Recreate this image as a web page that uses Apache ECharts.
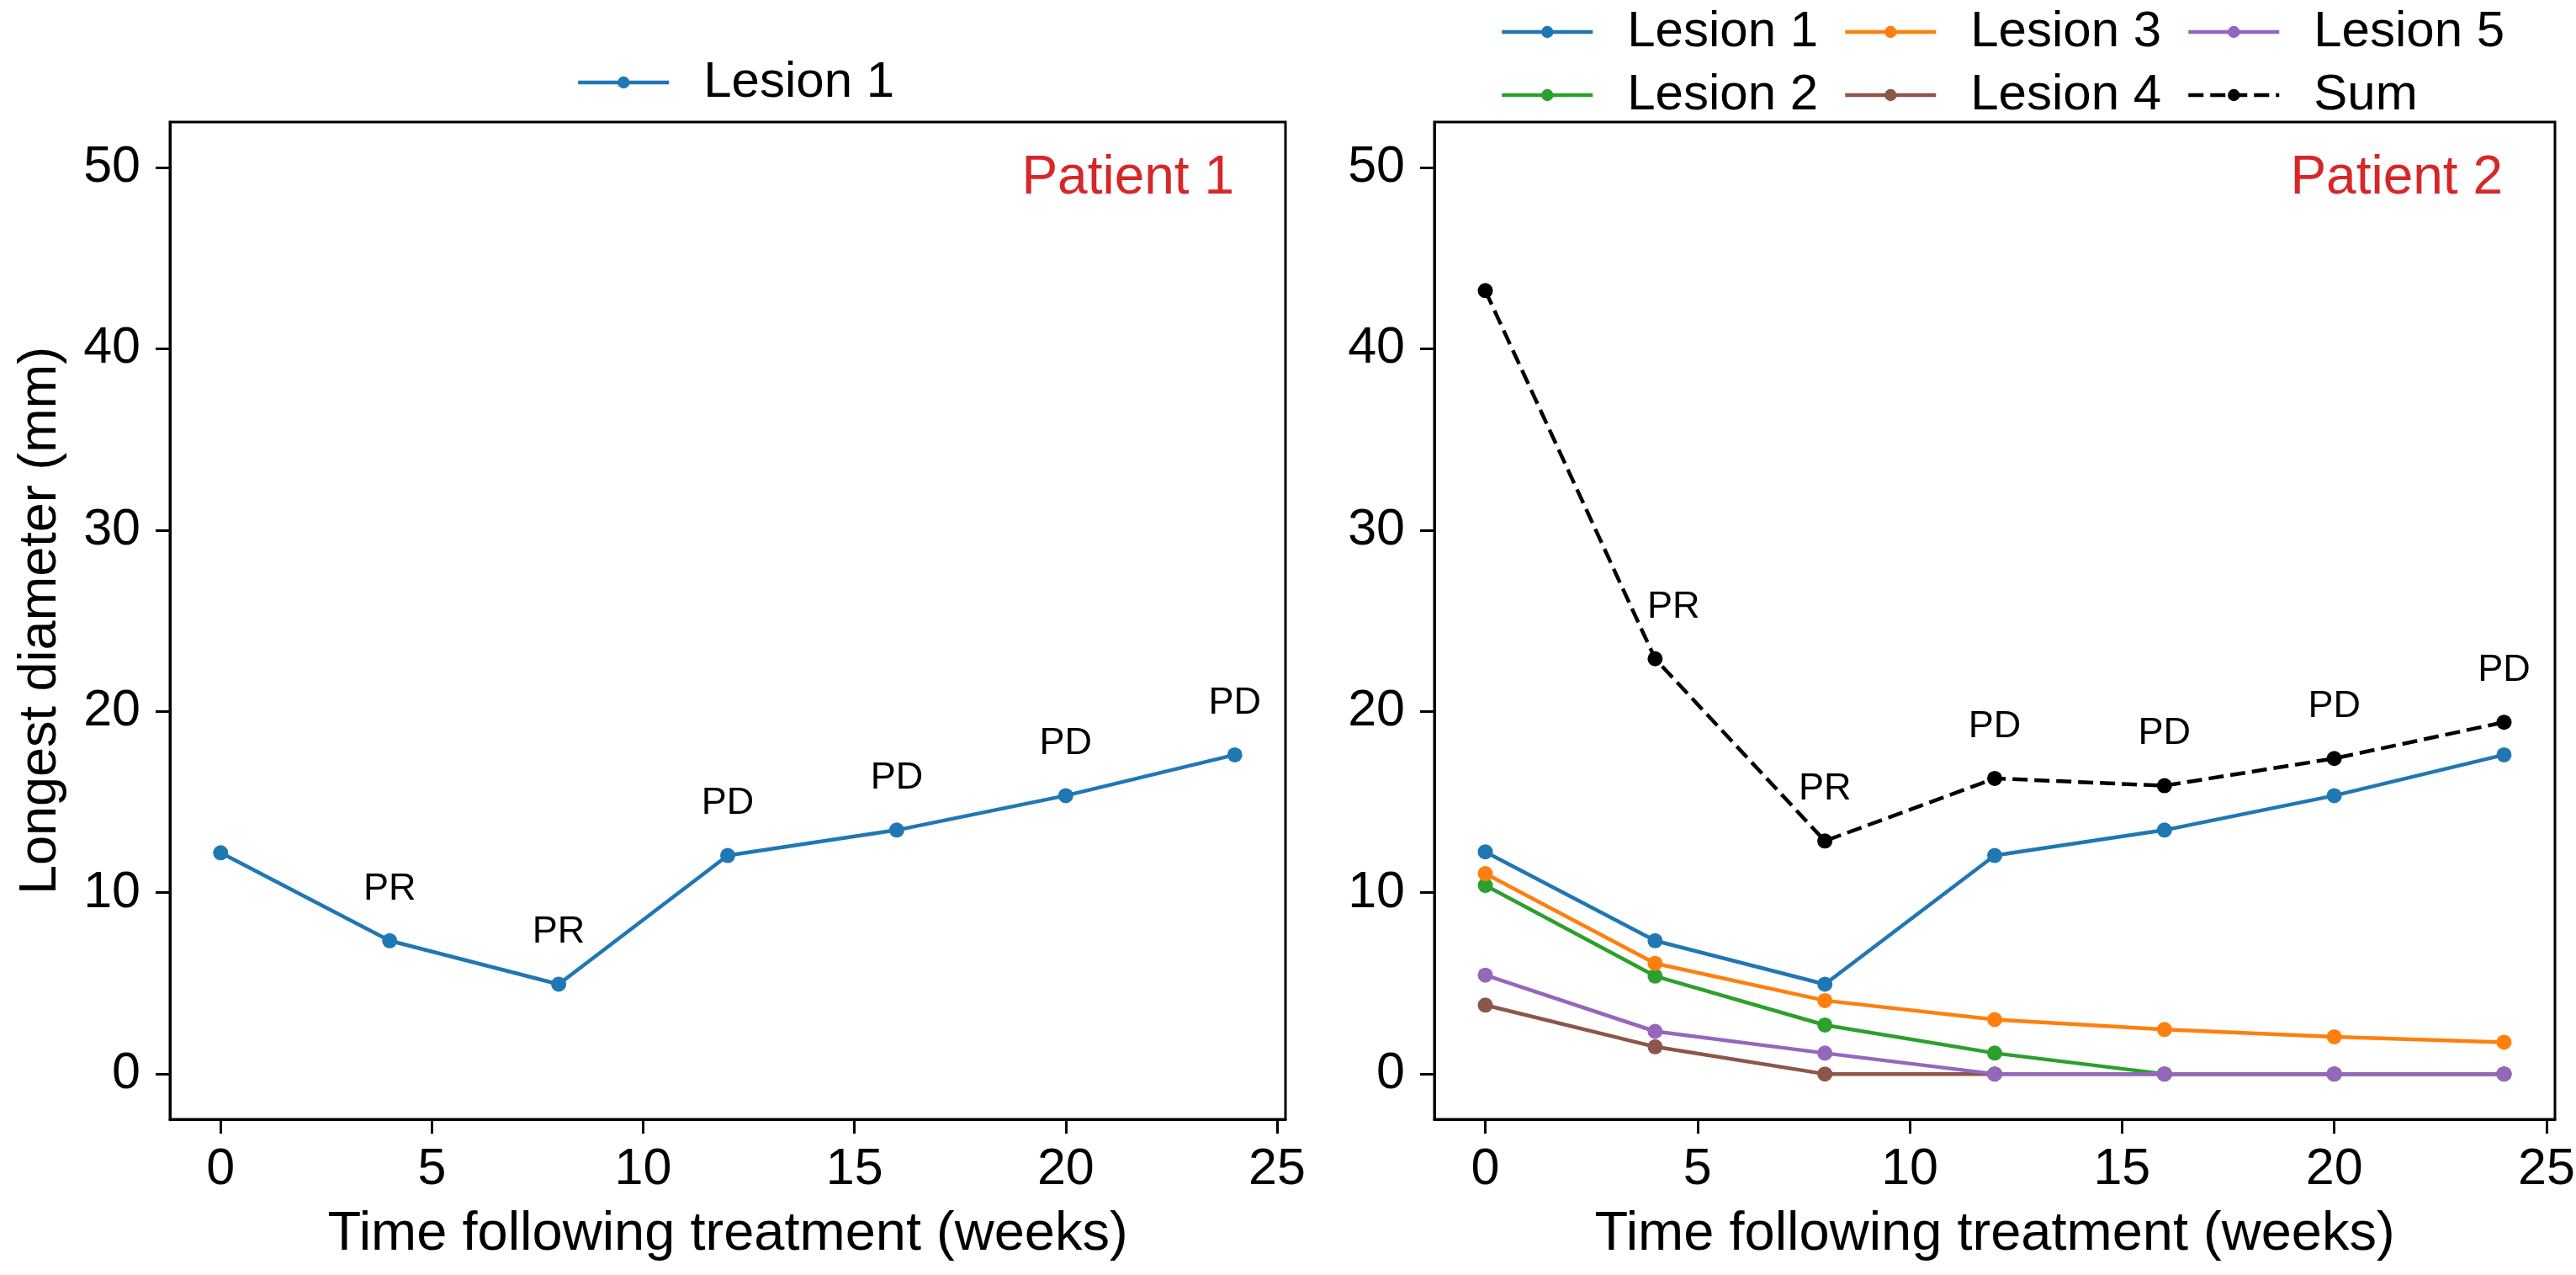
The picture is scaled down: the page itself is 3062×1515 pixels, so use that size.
<!DOCTYPE html>
<html><head><meta charset="utf-8">
<script src="https://cdn.jsdelivr.net/npm/echarts@6/dist/echarts.min.js"></script>
<style>html,body{margin:0;padding:0;background:#fff}#c{width:3062px;height:1515px}</style>
</head><body><div id="c"></div>
<script>
// ---- data ----
const weeks = [0, 4, 8, 12, 16, 20, 24];
const xTicks = [0, 5, 10, 15, 20, 25];
const yTicks = [0, 10, 20, 30, 40, 50];
const responseLabels = ['', 'PR', 'PR', 'PD', 'PD', 'PD', 'PD'];

const p1Lesion1 = [12.2, 7.35, 4.95, 12.05, 13.45, 15.35, 17.6];

const p2Lesion1 = [12.25, 7.35, 4.95, 12.05, 13.45, 15.35, 17.6];
const p2Lesion2 = [10.4, 5.4, 2.7, 1.15, 0, 0, 0];
const p2Lesion3 = [11.05, 6.1, 4.05, 3.0, 2.45, 2.05, 1.75];
const p2Lesion4 = [3.8, 1.5, 0, 0, 0, 0, 0];
const p2Lesion5 = [5.45, 2.35, 1.15, 0, 0, 0, 0];
const p2Sum = [43.2, 22.9, 12.85, 16.3, 15.9, 17.4, 19.4];

const F = 'Liberation Sans';
const LW = 4.5;
const colors = {l1:'#1f77b4', l2:'#2ca02c', l3:'#ff7f0e', l4:'#8c564b', l5:'#9467bd', sum:'#000000'};

function pts(vals){ return weeks.map((w,i)=>[w, vals[i]]); }
function labeledPts(vals, labels, offsets){
  return weeks.map((w,i)=>({
    value:[w, vals[i]],
    label:{show: labels[i] !== '', formatter: labels[i], offset: (offsets && offsets[i]) || [0,0]}
  }));
}
const ptLabel = {show:false, position:'top', distance:30, fontSize:45, color:'#000', fontFamily:F};

function lineSeries(name, gi, data, color, dashed){
  return {
    type:'line', name, xAxisIndex:gi, yAxisIndex:gi, data,
    symbol:'circle', symbolSize:18, showSymbol:true,
    itemStyle:{color},
    lineStyle:{color, width:LW, type: dashed ? [18,8] : 'solid'},
    label: ptLabel,
    emphasis:{disabled:true},
    animation:false
  };
}

function xAxis(gi){
  return {
    type:'value', gridIndex:gi, min:-1.2, max:25.2,
    name:'Time following treatment (weeks)', nameLocation:'middle', nameGap:105,
    nameTextStyle:{fontSize:65, color:'#000', fontFamily:F},
    axisLine:{show:true, onZero:false, lineStyle:{color:'#000', width:3}},
    axisTick:{show:true, inside:false, length:17, lineStyle:{color:'#000', width:3}, customValues:xTicks},
    axisLabel:{fontSize:61, color:'#000', fontFamily:F, margin:30, customValues:xTicks},
    splitLine:{show:false}
  };
}
function yAxis(gi){
  const ax = {
    type:'value', gridIndex:gi, min:-2.5, max:52.5,
    axisLine:{show:true, onZero:false, lineStyle:{color:'#000', width:3}},
    axisTick:{show:true, inside:false, length:17, lineStyle:{color:'#000', width:3}, customValues:yTicks},
    axisLabel:{fontSize:61, color:'#000', fontFamily:F, margin:35, customValues:yTicks},
    splitLine:{show:false}
  };
  if (gi === 0) {
    ax.name = 'Longest diameter (mm)';
    ax.nameLocation = 'middle';
    ax.nameGap = 122;
    ax.nameTextStyle = {fontSize:63, color:'#000', fontFamily:F};
  }
  return ax;
}

const legendText = {fontSize:60, color:'#000', fontFamily:F, padding:[0,0,0,36]};
function legend(name, left, top){
  return {data:[name], left, top, itemWidth:108, itemHeight:18, selectedMode:false,
          textStyle:legendText, itemGap:0, lineStyle:{width:LW}};
}

const option = {
  backgroundColor:'#fff',
  animation:false,
  grid:[
    {left:202, top:145, width:1326, height:1185, show:true, borderColor:'#000', borderWidth:3, containLabel:false, outerBoundsMode:'none'},
    {left:1705, top:145, width:1332, height:1185, show:true, borderColor:'#000', borderWidth:3, containLabel:false, outerBoundsMode:'none'}
  ],
  xAxis:[xAxis(0), xAxis(1)],
  yAxis:[yAxis(0), yAxis(1)],
  legend:[
    legend('Lesion 1', 680, 63),
    legend('Lesion 1', 1778, 3),
    legend('Lesion 3', 2186, 3),
    legend('Lesion 5', 2594, 3),
    legend('Lesion 2', 1778, 78),
    legend('Lesion 4', 2186, 78),
    legend('Sum', 2594, 78)
  ],
  series:[
    lineSeries('Lesion 1', 0, labeledPts(p1Lesion1, responseLabels), colors.l1, false),
    lineSeries('Lesion 1', 1, pts(p2Lesion1), colors.l1, false),
    lineSeries('Lesion 2', 1, pts(p2Lesion2), colors.l2, false),
    lineSeries('Lesion 3', 1, pts(p2Lesion3), colors.l3, false),
    lineSeries('Lesion 4', 1, pts(p2Lesion4), colors.l4, false),
    lineSeries('Lesion 5', 1, pts(p2Lesion5), colors.l5, false),
    lineSeries('Sum', 1, labeledPts(p2Sum, responseLabels, [null,[22,0]]), colors.sum, true)
  ],
  graphic:[
    {type:'text', x:1467, y:212, style:{text:'Patient 1', fill:'#d62728', fontSize:64, fontFamily:F, align:'right', verticalAlign:'middle'}},
    {type:'text', x:2975, y:212, style:{text:'Patient 2', fill:'#d62728', fontSize:64, fontFamily:F, align:'right', verticalAlign:'middle'}}
  ]
};
const chart = echarts.init(document.getElementById('c'), null, {renderer:'canvas'});
chart.setOption(option);
</script>
</body></html>
